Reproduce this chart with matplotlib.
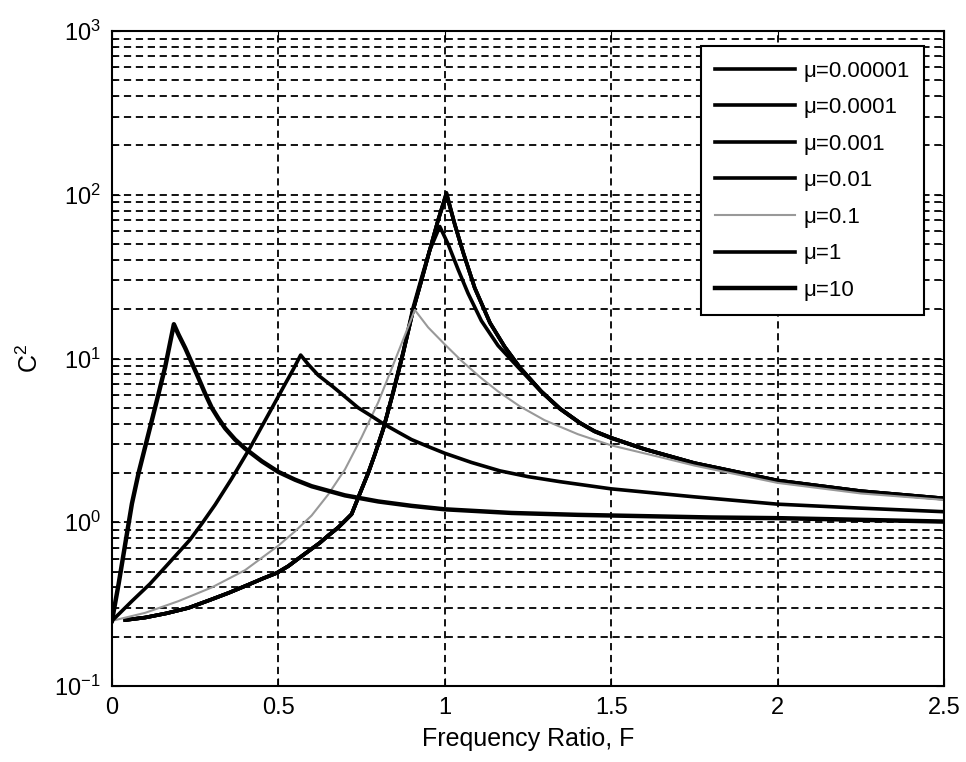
import matplotlib.pyplot as plt
import numpy as np

plt.rcParams['font.family'] = ['Liberation Sans', 'DejaVu Sans']
plt.rcParams['mathtext.fontset'] = 'custom'
plt.rcParams['mathtext.rm'] = 'Liberation Sans'
plt.rcParams['mathtext.it'] = 'Liberation Sans'

# mu = 10
f_mu10 = [0, 0.02, 0.04, 0.06, 0.08, 0.10, 0.12, 0.14, 0.16, 0.186, 0.20, 0.22, 0.24, 0.26, 0.28,
          0.30, 0.32, 0.34, 0.37, 0.40, 0.45, 0.50, 0.55, 0.60, 0.70, 0.80, 0.90, 1.00, 1.20, 1.40,
          1.60, 1.80, 2.00, 2.20, 2.50]
c_mu10 = [0.25, 0.42, 0.74, 1.3, 2.0, 2.9, 4.2, 6.1, 8.9, 16.2, 14.0, 11.6, 9.4, 7.6, 6.1,
          5.0, 4.3, 3.75, 3.2, 2.82, 2.36, 2.03, 1.82, 1.66, 1.46, 1.34, 1.26, 1.2, 1.14, 1.11,
          1.09, 1.07, 1.06, 1.04, 1.01]

# mu = 1
f_mu1 = [0, 0.06, 0.114, 0.17, 0.234, 0.27, 0.31, 0.36, 0.415, 0.45, 0.485, 0.52, 0.545, 0.567,
         0.59, 0.62, 0.665, 0.70, 0.74, 0.78, 0.815, 0.86, 0.90, 0.95, 1.0, 1.08, 1.166, 1.25,
         1.346, 1.5, 1.75, 2.0, 2.25, 2.5]
c_mu1 = [0.25, 0.33, 0.42, 0.56, 0.78, 0.98, 1.28, 1.85, 2.85, 3.84, 5.17, 6.97, 8.6, 10.5,
         9.2, 7.9, 6.7, 5.85, 5.0, 4.45, 4.0, 3.55, 3.2, 2.9, 2.64, 2.32, 2.06, 1.9,
         1.77, 1.6, 1.43, 1.29, 1.22, 1.16]

# mu = 0.1
f_mu01 = [0, 0.1, 0.2, 0.3, 0.4, 0.5, 0.55, 0.6, 0.65, 0.7, 0.75, 0.8, 0.855, 0.91, 0.95, 1.0,
          1.05, 1.106, 1.16, 1.226, 1.3, 1.4, 1.5, 1.647, 1.75, 2.0, 2.25, 2.5]
c_mu01 = [0.25, 0.28, 0.33, 0.40, 0.51, 0.72, 0.88, 1.1, 1.48, 2.1, 3.3, 5.4, 10.3, 19.8, 15.5, 12.2,
          9.7, 7.7, 6.3, 5.1, 4.2, 3.45, 2.95, 2.5, 2.22, 1.74, 1.5, 1.37]

# mu = 0.01
f_mu001 = [0.04, 0.10, 0.164, 0.23, 0.294, 0.35, 0.415, 0.455, 0.495, 0.53, 0.56, 0.59, 0.625,
           0.65, 0.68, 0.70, 0.72, 0.745, 0.77, 0.79, 0.815, 0.845, 0.875, 0.905, 0.93, 0.955,
           0.985, 1.01, 1.04, 1.07, 1.11, 1.16, 1.226, 1.29, 1.346, 1.406, 1.45, 1.5, 1.6, 1.75,
           2.0, 2.25, 2.5]
c_mu001 = [0.253, 0.262, 0.278, 0.30, 0.335, 0.37, 0.42, 0.455, 0.49, 0.54, 0.60, 0.665, 0.75,
           0.83, 0.93, 1.02, 1.12, 1.5, 2.0, 2.6, 3.7, 6.3, 11.0, 20.5, 31, 46,
           64, 50, 35, 25, 17, 12, 8.6, 6.25, 4.92, 4.03, 3.58, 3.26, 2.79, 2.29,
           1.79, 1.54, 1.39]

# mu = 0.001, 0.0001, 0.00001 (practically coincide)
f_small = [0.04, 0.10, 0.164, 0.23, 0.294, 0.35, 0.415, 0.455, 0.495, 0.53, 0.56, 0.59, 0.625,
           0.65, 0.68, 0.70, 0.72, 0.745, 0.77, 0.79, 0.815, 0.845, 0.875, 0.905, 0.93, 0.955,
           0.98, 1.005, 1.03, 1.056, 1.09, 1.136, 1.18, 1.226, 1.29, 1.346, 1.406, 1.45, 1.5,
           1.6, 1.75, 2.0, 2.25, 2.5]
c_mu0001 = [0.253, 0.262, 0.278, 0.30, 0.335, 0.37, 0.42, 0.455, 0.49, 0.54, 0.60, 0.665, 0.75,
            0.83, 0.93, 1.02, 1.12, 1.5, 2.0, 2.6, 3.7, 6.2, 10.8, 19.8, 30, 46,
            70, 100, 66, 44, 27, 16.5, 11.8, 8.8, 6.3, 4.95, 4.05, 3.6, 3.28,
            2.8, 2.3, 1.8, 1.55, 1.40]
c_mu00001 = [0.253, 0.262, 0.278, 0.30, 0.335, 0.37, 0.42, 0.455, 0.49, 0.54, 0.60, 0.665, 0.75,
             0.83, 0.93, 1.02, 1.12, 1.5, 2.0, 2.6, 3.7, 6.2, 10.8, 19.8, 30, 46,
             70, 102, 66, 44, 27, 16.5, 11.8, 8.8, 6.3, 4.95, 4.05, 3.6, 3.28,
             2.8, 2.3, 1.8, 1.55, 1.40]
c_mu000001 = [0.253, 0.262, 0.278, 0.30, 0.335, 0.37, 0.42, 0.455, 0.49, 0.54, 0.60, 0.665, 0.75,
              0.83, 0.93, 1.02, 1.12, 1.5, 2.0, 2.6, 3.7, 6.2, 10.8, 19.8, 30, 46,
              70, 103, 66, 44, 27, 16.5, 11.8, 8.8, 6.3, 4.95, 4.05, 3.6, 3.28,
              2.8, 2.3, 1.8, 1.55, 1.40]

labels = ['\u03bc=0.00001', '\u03bc=0.0001', '\u03bc=0.001', '\u03bc=0.01', '\u03bc=0.1', '\u03bc=1', '\u03bc=10']

fig = plt.figure(figsize=(9.66, 7.62), dpi=100)
ax = fig.add_axes([0.1159, 0.0997, 0.8613, 0.8596])

ax.plot(f_small, c_mu000001, color='black', lw=2.6, label=labels[0])
ax.plot(f_small, c_mu00001, color='black', lw=2.6, label=labels[1])
ax.plot(f_small, c_mu0001, color='black', lw=2.6, label=labels[2])
ax.plot(f_mu001, c_mu001, color='black', lw=2.6, label=labels[3])
ax.plot(f_mu01, c_mu01, color='0.6', lw=1.5, label=labels[4])
ax.plot(f_mu1, c_mu1, color='black', lw=2.6, label=labels[5])
ax.plot(f_mu10, c_mu10, color='black', lw=3.2, label=labels[6])

ax.set_yscale('log')
ax.set_xlim(0, 2.5)
ax.set_ylim(0.1, 1000)
ax.set_xticks([0, 0.5, 1, 1.5, 2, 2.5])
ax.set_xticklabels(['0', '0.5', '1', '1.5', '2', '2.5'])

ax.grid(True, which='major', axis='x', color='black', linestyle=(0, (4, 2.6)), lw=1.3)
ax.grid(True, which='both', axis='y', color='black', linestyle=(0, (4, 2.6)), lw=1.3)
ax.tick_params(which='both', direction='in', top=True, right=True, labelsize=17, pad=8)
ax.tick_params(which='major', length=6)
ax.tick_params(which='minor', length=3)
for s in ax.spines.values():
    s.set_linewidth(1.5)

ax.set_xlabel('Frequency Ratio, F', fontsize=18, labelpad=6)
ax.set_ylabel('C$^2$', fontsize=18, labelpad=8)

leg = ax.legend(loc='upper right', bbox_to_anchor=(0.976, 0.977), borderaxespad=0,
                fancybox=False, framealpha=1, edgecolor='black', fontsize=16,
                handlelength=3.6, handletextpad=0.35, labelspacing=0.7, borderpad=0.65)
leg.get_frame().set_linewidth(1.5)

fig.savefig('out.png', dpi=100)
